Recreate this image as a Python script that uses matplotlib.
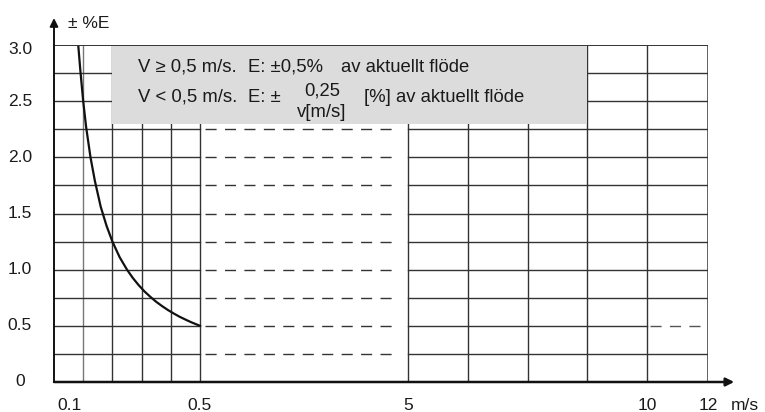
import numpy as np
import matplotlib
matplotlib.use("Agg")
import matplotlib.pyplot as plt

plt.rcParams['font.family'] = ['Liberation Sans', 'DejaVu Sans']

# Data
v_curve = [0.083, 0.09, 0.1, 0.11, 0.125, 0.14, 0.16, 0.18, 0.2, 0.225, 0.25,
           0.27, 0.29, 0.31, 0.33, 0.35, 0.37, 0.39, 0.41, 0.43, 0.45, 0.47, 0.5]
e_curve = [3.0, 2.78, 2.5, 2.27, 2.0, 1.79, 1.56, 1.39, 1.25, 1.11, 1.0,
           0.926, 0.862, 0.806, 0.758, 0.714, 0.676, 0.641, 0.61, 0.581, 0.556,
           0.532, 0.5]

x_ticks = [0.1, 0.5, 5, 10, 12]
x_labels = ['0.1', '0.5', '5', '10', '12']
y_ticks = [0, 0.5, 1.0, 1.5, 2.0, 2.5, 3.0]
y_labels = ['0', '0.5', '1.0', '1.5', '2.0', '2.5', '3.0']

left_cols = [0.1, 0.2, 0.3, 0.4, 0.5]
right_cols = [5, 6.25, 7.5, 8.75, 10]
rows = [0.25, 0.5, 0.75, 1.0, 1.25, 1.5, 1.75, 2.0, 2.25, 2.5, 2.75]
dashed_rows = [0.25, 0.5, 0.75, 1.0, 1.25, 1.5, 1.75, 2.0, 2.25]
dashed_span = (0.6, 4.75)
tail_dash_row = 0.5
tail_dash_span = (10.1, 11.8)
box_x = (0.2, 8.75)
box_y = (2.3, 3.0)

# piecewise-linear x scale (schematic axis)
V_BR = np.array([-1000, 0, 0.5, 5, 10, 12, 1000])
P_BR = np.array([-1000 * 292.0, 0, 146, 354, 593, 654, 654 + 988 * 30.5])


def fwd(v):
    return np.interp(v, V_BR, P_BR)


def inv(p):
    return np.interp(p, P_BR, V_BR)


W, H = 765, 412
fig = plt.figure(figsize=(W / 100, H / 100), dpi=100)
ax = fig.add_axes([54 / W, 30 / H, 654 / W, 337 / H])
ax.set_xscale('function', functions=(fwd, inv))
ax.set_xlim(0, 12)
ax.set_ylim(0, 3)
ax.axis('off')

gc = '#333333'
vc = '#777777'
tc = '#1a1a1a'

# vertical grid
for x in left_cols + right_cols:
    ax.plot([x, x], [0, 3], color=vc if x == 0.1 else gc, lw=1.0, zorder=1,
            solid_capstyle='butt')

# horizontal grid, left and right parts
for y in rows:
    ax.plot([0, 0.5], [y, y], color=gc, lw=1.0, zorder=1)
    if y == tail_dash_row:
        ax.plot([5, 10], [y, y], color=gc, lw=1.0, zorder=1)
    else:
        ax.plot([5, 12], [y, y], color=gc, lw=1.0, zorder=1)

# dashed rows in the middle part
for y in dashed_rows:
    ax.plot(dashed_span, [y, y], color=gc, lw=1.0, ls=(0, (8, 6)), zorder=1)
ax.plot(tail_dash_span, [tail_dash_row] * 2, color='#555555', lw=1.0,
        ls=(0, (8, 6)), zorder=1)

# grey info box
ax.fill_between(box_x, box_y[0], box_y[1], color='#dcdcdd', lw=0, zorder=2)

# curve
ax.plot(v_curve, e_curve, color='#111111', lw=1.6, zorder=3)

# frame
ax.plot([0, 12], [3, 3], color=gc, lw=1.4, zorder=4)
ax.plot([12, 12], [0, 3], color=gc, lw=1.8, zorder=4)
ax.annotate('', xy=(0, 1.08), xytext=(0, 0), xycoords='axes fraction',
            arrowprops=dict(arrowstyle='-|>', color='#111111', lw=1.4,
                            mutation_scale=12, shrinkA=0, shrinkB=0), zorder=5)
ax.annotate('', xy=(1.04, 0), xytext=(0, 0), xycoords='axes fraction',
            arrowprops=dict(arrowstyle='-|>', color='#111111', lw=1.8,
                            mutation_scale=12, shrinkA=0, shrinkB=0), zorder=5)

# tick labels
tfs = 12.5
for y, lab in zip(y_ticks, y_labels):
    yy = y - 0.04 if y == 3.0 else y
    ax.text(-34 / 654, yy, lab, transform=ax.get_yaxis_transform(),
            ha='center', va='center', fontsize=tfs, color=tc)
x_off = {0.1: -14}
for x, lab in zip(x_ticks, x_labels):
    ax.annotate(lab, xy=(x, 0), xycoords=ax.get_xaxis_transform(),
                xytext=(x_off.get(x, 0) * 0.72, -28 * 0.72),
                textcoords='offset points',
                ha='center', va='baseline', fontsize=tfs, color=tc)
fig.text(745 / W, 1 - 410 / H, 'm/s', ha='center', va='baseline', fontsize=tfs,
         color=tc)
fig.text(68 / W, 1 - 28 / H, '± %E', ha='left', va='baseline', fontsize=tfs,
         color=tc)

# box text, placed piece by piece (the original has wide gaps)
bfs = 13.3


def btxt(x, y, s, ha='left'):
    fig.text(x / W, 1 - y / H, s, ha=ha, va='baseline', fontsize=bfs, color=tc)


btxt(138, 72, 'V ≥ 0,5 m/s.')
btxt(248, 72, 'E: ±0,5%')
btxt(341, 72, 'av aktuellt flöde')
btxt(138, 102, 'V < 0,5 m/s.')
btxt(248, 102, 'E: ±')
btxt(322, 95, '0,25', ha='center')
btxt(322, 117, 'v[m/s]', ha='center')
btxt(364, 102, '[%] av aktuellt flöde')

fig.savefig('out.png', dpi=100)
